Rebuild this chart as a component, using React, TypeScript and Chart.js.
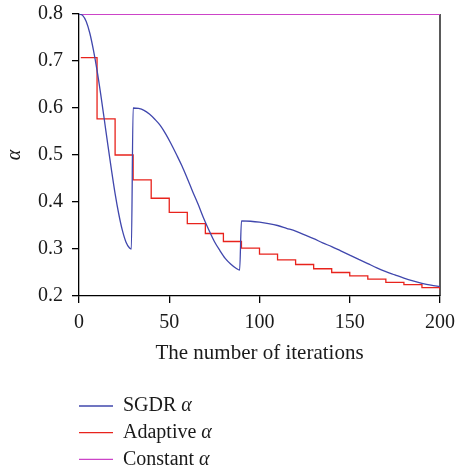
import React, { useEffect, useRef } from "react";
import { Chart, registerables } from "chart.js";

Chart.register(...registerables);

// ---- Data ----
const sgdrIters = [
  0, 2, 4, 6, 8, 10, 12, 14, 16, 18, 20, 22, 24, 26, 28, 29,
  30, 33, 36, 39, 42, 45, 48, 51, 54, 57, 60, 63, 66, 69, 72, 75, 78, 81, 84, 87, 89,
  90, 95, 100, 105, 110, 115, 120, 125, 130, 135, 140, 145, 150, 155, 160, 165, 170, 175, 180, 185, 190, 195, 200,
];
const sgdrValues = [
  0.8, 0.797, 0.784, 0.759, 0.723, 0.68, 0.63, 0.576, 0.521, 0.468, 0.418, 0.375, 0.34, 0.315, 0.302, 0.3,
  0.6, 0.599, 0.595, 0.587, 0.576, 0.563, 0.545, 0.524, 0.501, 0.477, 0.45, 0.422, 0.395, 0.366, 0.34, 0.316, 0.297, 0.28, 0.268, 0.259, 0.255,
  0.36, 0.359, 0.357, 0.354, 0.35, 0.344, 0.338, 0.33, 0.322, 0.313, 0.305, 0.296, 0.287, 0.278, 0.269, 0.26, 0.252, 0.245, 0.238, 0.232, 0.227, 0.223, 0.22,
];

const adaptiveIters = [1, 10, 20, 30, 40, 50, 60, 70, 80, 90, 100, 110, 120, 130, 140, 150, 160, 170, 180, 190, 200];
const adaptiveValues = [
  0.707, 0.577, 0.5, 0.447, 0.408, 0.378, 0.354, 0.333, 0.316, 0.302, 0.289,
  0.277, 0.267, 0.258, 0.25, 0.243, 0.236, 0.229, 0.224, 0.218, 0.213,
];

const constantIters = [0, 200];
const constantValues = [0.8, 0.8];

const xTicks = [0, 50, 100, 150, 200];
const yTicks = [0.2, 0.3, 0.4, 0.5, 0.6, 0.7, 0.8];

const seriesNames = ["SGDR", "Adaptive", "Constant"];
const seriesColors = ["#4047ad", "#e8231c", "#cc44c8"];

const FONT = "'Liberation Serif', 'Times New Roman', serif";

const toPoints = (xs: number[], ys: number[]) => xs.map((x, i) => ({ x, y: ys[i] }));

const framePlugin = {
  id: "frame",
  beforeDatasetsDraw(chart: any) {
    const { ctx, chartArea } = chart;
    ctx.save();
    ctx.strokeStyle = "#000";
    ctx.lineWidth = 1.3;
    ctx.beginPath();
    ctx.moveTo(chartArea.right, chartArea.top);
    ctx.lineTo(chartArea.right, chartArea.bottom);
    ctx.stroke();
    ctx.restore();
  },
};

const legendPlugin = {
  id: "customLegend",
  afterDraw(chart: any) {
    const { ctx } = chart;
    ctx.save();
    const rowY0 = 406;
    const rowGap = 26.7;
    chart.data.datasets.forEach((ds: any, i: number) => {
      const y = rowY0 + i * rowGap;
      ctx.strokeStyle = ds.borderColor;
      ctx.lineWidth = 1.3;
      ctx.beginPath();
      ctx.moveTo(79, y);
      ctx.lineTo(113, y);
      ctx.stroke();
      ctx.fillStyle = "#1a1a1a";
      ctx.textBaseline = "middle";
      ctx.textAlign = "left";
      ctx.font = `20px ${FONT}`;
      const label = seriesNames[i] + " ";
      ctx.fillText(label, 123, y);
      const w = ctx.measureText(label).width;
      ctx.font = `italic 20px ${FONT}`;
      ctx.fillText("\u03B1", 123 + w, y);
    });
    ctx.restore();
  },
};

export default function App() {
  const canvasRef = useRef<HTMLCanvasElement | null>(null);

  useEffect(() => {
    if (!canvasRef.current) return;
    const chart = new Chart(canvasRef.current, {
      type: "line",
      data: {
        datasets: [
          {
            label: "SGDR α",
            data: toPoints(sgdrIters, sgdrValues),
            borderColor: seriesColors[0],
            borderWidth: 1.3,
            pointRadius: 0,
            cubicInterpolationMode: "monotone",
          },
          {
            label: "Adaptive α",
            data: toPoints(adaptiveIters, adaptiveValues),
            borderColor: seriesColors[1],
            borderWidth: 1.3,
            pointRadius: 0,
            stepped: "before",
          },
          {
            label: "Constant α",
            data: toPoints(constantIters, constantValues),
            borderColor: seriesColors[2],
            borderWidth: 1.8,
            pointRadius: 0,
          },
        ],
      },
      options: {
        animation: false,
        responsive: false,
        layout: { padding: { top: 14, right: 15, bottom: 105, left: 0 } },
        plugins: {
          legend: { display: false },
          tooltip: { enabled: false },
        },
        scales: {
          x: {
            type: "linear",
            min: 0,
            max: 200,
            afterFit: (scale: any) => {
              scale.height = 70;
              scale.paddingLeft = 0;
              scale.paddingRight = 0;
              scale.paddingTop = 0;
              scale.paddingBottom = 0;
            },
            afterBuildTicks: (scale: any) => {
              scale.ticks = xTicks.map((v) => ({ value: v }));
            },
            grid: { display: true, drawOnChartArea: false, drawTicks: true, tickLength: 7, color: "#000", lineWidth: 1.3 },
            border: { display: true, color: "#000", width: 1.3 },
            ticks: {
              color: "#1a1a1a",
              padding: 8,
              maxRotation: 0,
              font: { family: FONT, size: 20 },
              callback: (v: any) => String(v),
            },
            title: {
              display: true,
              text: "The number of iterations",
              color: "#1a1a1a",
              font: { family: FONT, size: 21 },
              padding: { top: 0, bottom: 0 },
            },
          },
          y: {
            type: "linear",
            min: 0.2,
            max: 0.8,
            afterFit: (scale: any) => {
              scale.width = 79;
              scale.paddingLeft = 0;
              scale.paddingRight = 0;
              scale.paddingTop = 0;
              scale.paddingBottom = 0;
            },
            afterBuildTicks: (scale: any) => {
              scale.ticks = yTicks.map((v) => ({ value: v }));
            },
            grid: { display: true, drawOnChartArea: false, drawTicks: true, tickLength: 7, color: "#000", lineWidth: 1.3 },
            border: { display: true, color: "#000", width: 1.3 },
            ticks: {
              color: "#1a1a1a",
              padding: 9,
              font: { family: FONT, size: 20 },
              callback: (v: any) => Number(v).toFixed(1),
            },
            title: {
              display: true,
              text: "α",
              color: "#1a1a1a",
              font: { family: FONT, size: 20, style: "italic" },
              padding: { top: 3, bottom: 0 },
            },
          },
        },
      },
      plugins: [framePlugin, legendPlugin],
    });
    return () => chart.destroy();
  }, []);

  return (
    <div style={{ position: "fixed", left: 0, top: 0, width: 455, height: 471, background: "#fff" }}>
      <canvas ref={canvasRef} width={455} height={471} />
    </div>
  );
}
